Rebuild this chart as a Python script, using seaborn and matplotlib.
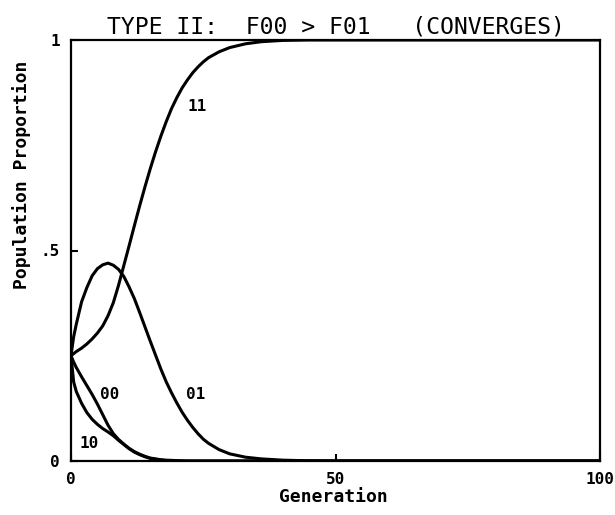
import matplotlib
matplotlib.use("Agg")
import matplotlib.pyplot as plt
import seaborn as sns
import pandas as pd

generation = [0, 0.5, 1, 2, 3, 4, 5, 6, 7, 8, 9, 10, 11, 12, 13, 14, 15, 16, 17, 18,
              19, 20, 21, 22, 23, 24, 25, 26, 28, 30, 33, 36, 40, 45, 50, 60, 80, 100]

p11 = [0.25, 0.255, 0.26, 0.268, 0.278, 0.29, 0.304, 0.321, 0.345, 0.376, 0.418, 0.465,
       0.512, 0.56, 0.607, 0.652, 0.695, 0.735, 0.772, 0.806, 0.837, 0.863, 0.886, 0.905,
       0.922, 0.936, 0.948, 0.958, 0.972, 0.982, 0.991, 0.996, 0.999, 1.0, 1.0, 1.0, 1.0, 1.0]

p01 = [0.25, 0.295, 0.325, 0.378, 0.412, 0.44, 0.457, 0.466, 0.47, 0.465, 0.455, 0.438,
       0.413, 0.385, 0.352, 0.318, 0.284, 0.251, 0.218, 0.188, 0.162, 0.138, 0.116, 0.097,
       0.08, 0.065, 0.052, 0.042, 0.027, 0.017, 0.009, 0.005, 0.002, 0.0005, 0.0, 0.0, 0.0, 0.0]

p00 = [0.25, 0.235, 0.222, 0.2, 0.179, 0.158, 0.135, 0.11, 0.085, 0.065, 0.051, 0.04,
       0.03, 0.022, 0.016, 0.011, 0.007, 0.005, 0.003, 0.002, 0.0015, 0.001, 0.0005, 0.0,
       0.0, 0.0, 0.0, 0.0, 0.0, 0.0, 0.0, 0.0, 0.0, 0.0, 0.0, 0.0, 0.0, 0.0]

p10 = [0.25, 0.188, 0.165, 0.137, 0.115, 0.099, 0.087, 0.077, 0.069, 0.06, 0.049, 0.039,
       0.029, 0.021, 0.015, 0.01, 0.006, 0.004, 0.002, 0.001, 0.0005, 0.0, 0.0, 0.0,
       0.0, 0.0, 0.0, 0.0, 0.0, 0.0, 0.0, 0.0, 0.0, 0.0, 0.0, 0.0, 0.0, 0.0]

genotypes = ["11", "01", "00", "10"]
# Label positions (generation, proportion) for the curve annotations
label_pos = {"11": (23.9, 0.842), "01": (23.6, 0.157), "00": (7.3, 0.157), "10": (3.5, 0.042)}

x_ticks = [0, 50, 100]
x_ticklabels = ["0", "50", "100"]
y_ticks = [0, 0.5, 1]
y_ticklabels = ["0", ".5", "1"]

title = "TYPE II:  F00 > F01   (CONVERGES)"

series = {"11": p11, "01": p01, "00": p00, "10": p10}
df = pd.concat([pd.DataFrame({"Generation": generation, "Proportion": series[g], "Genotype": g})
                for g in genotypes], ignore_index=True)

sns.set_theme(style="white")
plt.rcParams["font.family"] = ["DejaVu Sans Mono"]
plt.rcParams["text.color"] = "black"
plt.rcParams["axes.labelcolor"] = "black"
plt.rcParams["xtick.color"] = "black"
plt.rcParams["ytick.color"] = "black"

fig = plt.figure(figsize=(6.15, 5.15), dpi=100)
ax = fig.add_axes([71 / 615, (515 - 461) / 515, (600 - 71) / 615, (461 - 40) / 515])

sns.lineplot(data=df, x="Generation", y="Proportion", hue="Genotype", units="Genotype",
             estimator=None, palette={g: "black" for g in genotypes}, linewidth=2.2,
             legend=False, ax=ax, sort=False)

ax.set_xlim(0, 100)
ax.set_ylim(0, 1)
ax.set_xticks(x_ticks)
ax.set_xticklabels(x_ticklabels, fontsize=11.5, fontweight="bold", color="black")
ax.set_yticks(y_ticks)
ax.set_yticklabels(y_ticklabels, fontsize=11.5, fontweight="bold", color="black")
ax.tick_params(axis="both", which="major", direction="in", length=5, width=1.5,
               color="black", pad=8, left=True, bottom=True, top=False, right=False)

for s in ax.spines.values():
    s.set_visible(True)
    s.set_color("black")
    s.set_linewidth(1.6)

for g in genotypes:
    gx, gy = label_pos[g]
    ax.text(gx, gy, g, ha="center", va="center", fontsize=11.5, fontweight="bold",
            color="black")

ax.set_xlabel("Generation", fontsize=13, fontweight="bold", color="black")
ax.xaxis.set_label_coords((333 - 71) / 529, (461 - 497) / 421)
ax.xaxis.label.set_va("center")
ax.set_ylabel("Population Proportion", fontsize=13, fontweight="bold", color="black")
ax.yaxis.set_label_coords((22 - 71) / 529, (461 - 175) / 421)
ax.yaxis.label.set_va("center")

ax.set_title(title, fontsize=16.7, fontweight="normal", pad=5, color="black")

fig.savefig("out.png", dpi=100)
